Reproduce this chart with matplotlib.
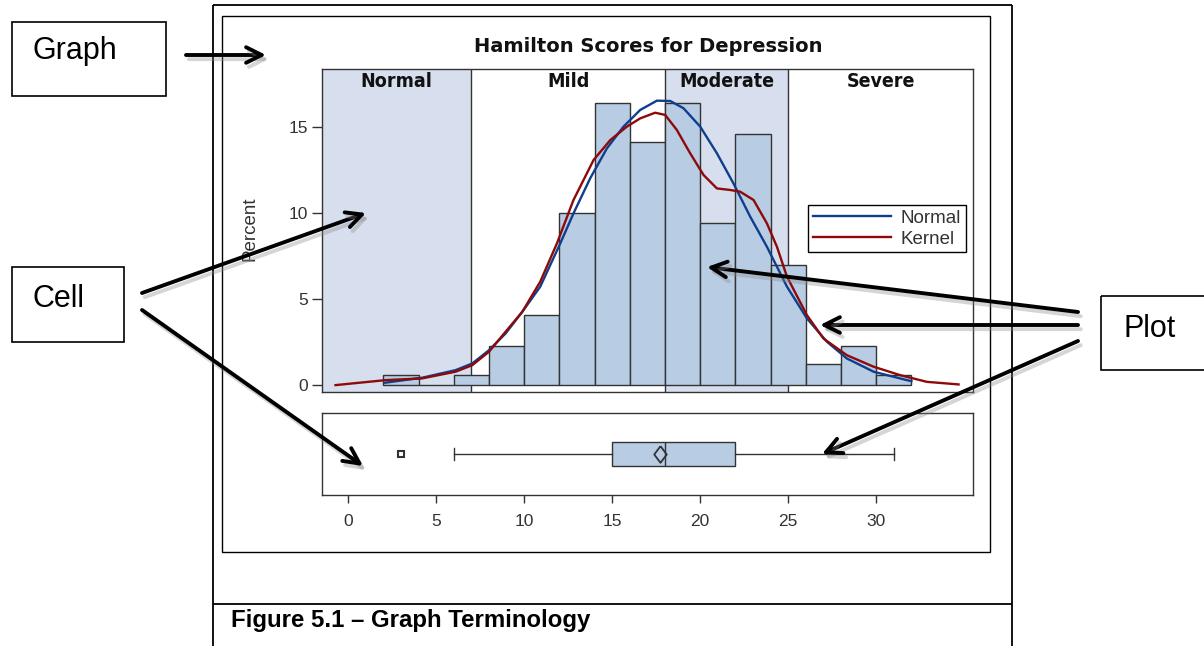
import matplotlib
matplotlib.use("Agg")
import matplotlib.pyplot as plt
from matplotlib import font_manager as fm
from matplotlib.patches import Rectangle
import matplotlib.patheffects as pe

# ---------------- data ----------------
title = "Hamilton Scores for Depression"
band_names = ["Normal", "Mild", "Moderate", "Severe"]
band_edges = [7, 18, 25]
shaded_bands = [0, 2]

bin_left = [2, 4, 6, 8, 10, 12, 14, 16, 18, 20, 22, 24, 26, 28, 30]
bin_pct = [0.6, 0.0, 0.6, 2.3, 4.1, 10.0, 16.4, 14.1, 16.4, 9.4, 14.6, 7.0, 1.2, 2.3, 0.6]
bin_width = 2

normal_x = [2.1, 4.2, 6.1, 7.05, 8.0, 8.94, 9.89, 10.91, 12.05, 12.8, 13.75, 14.7, 15.64,
            16.59, 17.54, 18.3, 19.05, 20.0, 20.95, 21.89, 22.84, 23.79, 24.93, 26.06,
            27.2, 28.33, 29.85, 31.74, 32.0]
normal_y = [0.14, 0.43, 0.87, 1.26, 2.03, 3.0, 4.26, 5.72, 8.24, 9.98, 12.02, 13.76, 15.02,
            15.99, 16.53, 16.51, 16.09, 15.02, 13.47, 11.72, 9.79, 8.04, 5.72, 3.88,
            2.52, 1.55, 0.78, 0.29, 0.23]

kernel_x = [-0.72, 2.12, 4.2, 6.1, 7.05, 8.0, 8.94, 9.89, 10.91, 11.86, 12.8, 13.94, 14.89,
            15.83, 16.59, 17.44, 18.01, 18.67, 19.43, 20.19, 20.95, 21.7, 22.27, 23.03,
            23.79, 24.36, 24.93, 26.06, 27.0, 28.33, 29.85, 31.36, 32.88, 34.68]
kernel_y = [0.0, 0.29, 0.39, 0.78, 1.16, 1.94, 3.1, 4.26, 6.01, 8.24, 10.76, 13.08, 14.24,
            15.02, 15.5, 15.83, 15.7, 14.83, 13.47, 12.21, 11.43, 11.34, 11.24, 10.76,
            9.4, 8.04, 6.3, 4.07, 2.71, 1.74, 1.07, 0.58, 0.19, 0.04]

box_q1, box_med, box_q3 = 15, 18, 22
box_whislo, box_whishi = 6, 31
box_mean = 17.7
box_fliers = [3]

y_ticks = [0, 5, 10, 15]
x_ticks = [0, 5, 10, 15, 20, 25, 30]

caption = "Figure 5.1 \u2013 Graph Terminology"
callouts = ["Graph", "Cell", "Plot"]

# ---------------- layout ----------------
W, H = 1204, 646
fig = plt.figure(figsize=(W / 100, H / 100), dpi=100)
fig.patch.set_facecolor("white")


def rect(l, t, r, b):
    return [l / W, 1 - b / H, (r - l) / W, (b - t) / H]


BAR = "#B8CCE4"
BAND = "#D7DEEE"
EDGE = "#333333"
TXT = "#333333"
BLUE = "#0F3F8C"
RED = "#8E0A0A"
XLIM = (-1.49, 35.5)

# condensed bold font for the band labels if available
band_fp = fm.FontProperties(family="DejaVu Sans", weight="bold", stretch="condensed")
path = fm.findfont(band_fp)
if "Condensed" in path:
    band_fp = fm.FontProperties(fname=path, size=14)
else:
    band_fp = fm.FontProperties(family="DejaVu Sans", weight="bold", size=12.5)

# ---------------- histogram cell ----------------
ax = fig.add_axes(rect(322, 69, 973, 392))
ax.set_xlim(*XLIM)
ax.set_ylim(-0.4, 18.37)
bounds = [XLIM[0]] + band_edges + [XLIM[1]]
for i in shaded_bands:
    ax.axvspan(bounds[i], bounds[i + 1], color=BAND, lw=0, zorder=0)
for e in band_edges:
    ax.axvline(e, color=EDGE, lw=1.0, zorder=1)
for i, name in enumerate(band_names):
    ax.text((bounds[i] + bounds[i + 1]) / 2, 17.67, name, ha="center", va="center",
            fontproperties=band_fp, color="#111111", zorder=5)
ax.bar(bin_left, bin_pct, width=bin_width, align="edge", color=BAR,
       edgecolor=EDGE, linewidth=1.0, zorder=2)
ax.plot(normal_x, normal_y, color=BLUE, lw=1.7, label="Normal", zorder=3,
        solid_joinstyle="round")
ax.plot(kernel_x, kernel_y, color=RED, lw=1.7, label="Kernel", zorder=4,
        solid_joinstyle="round")
ax.set_xticks([])
ax.set_yticks(y_ticks)
ax.tick_params(axis="y", direction="out", length=7, width=1, color=EDGE, pad=3,
               labelsize=12.5, labelcolor=TXT)
for lab in ax.get_yticklabels():
    lab.set_family("Liberation Sans")
for s in ax.spines.values():
    s.set_color(EDGE)
    s.set_linewidth(1.0)
leg = ax.legend(loc="upper right", bbox_to_anchor=(0.989, 0.579), borderaxespad=0,
                frameon=True, fancybox=False, edgecolor="black", framealpha=1,
                handlelength=4.2, handletextpad=0.5, borderpad=0.25, labelspacing=0.2,
                prop=fm.FontProperties(family="Liberation Sans", size=13.5))
leg.get_frame().set_linewidth(1.0)
for t in leg.get_texts():
    t.set_color(TXT)

# ---------------- box plot cell ----------------
bx = fig.add_axes(rect(322, 413, 973, 495))
bx.set_xlim(*XLIM)
bx.set_ylim(0, 1)
stats = [dict(med=box_med, q1=box_q1, q3=box_q3, whislo=box_whislo, whishi=box_whishi,
              mean=box_mean, fliers=box_fliers)]
diamond = [(0, 1), (0.75, 0), (0, -1), (-0.75, 0), (0, 1)]
bx.bxp(stats, positions=[0.5], widths=0.3, orientation="horizontal", showmeans=True,
       patch_artist=True, capwidths=0.15,
       boxprops=dict(facecolor=BAR, edgecolor=EDGE, linewidth=1.0),
       medianprops=dict(color=EDGE, linewidth=1.0),
       whiskerprops=dict(color=EDGE, linewidth=1.0),
       capprops=dict(color=EDGE, linewidth=1.0),
       meanprops=dict(marker=diamond, markersize=12, markerfacecolor="none",
                      markeredgecolor=EDGE, markeredgewidth=1.3),
       flierprops=dict(marker="s", markersize=4, markerfacecolor="white",
                       markeredgecolor=EDGE, markeredgewidth=1.5))
bx.set_yticks([])
bx.set_xticks(x_ticks)
bx.set_xticklabels([str(v) for v in x_ticks], family="Liberation Sans")
bx.tick_params(axis="x", direction="out", length=6, width=1, color=EDGE, pad=8,
               labelsize=12.5, labelcolor=TXT)
for s in bx.spines.values():
    s.set_color(EDGE)
    s.set_linewidth(1.0)

# ---------------- overlay: frames, texts, callouts ----------------
ov = fig.add_axes([0, 0, 1, 1], zorder=10)
ov.set_xlim(0, W)
ov.set_ylim(H, 0)
ov.axis("off")
ov.patch.set_alpha(0)

# document frame
for (x0, y0, x1, y1) in [(213, 5, 213, 646), (1012, 5, 1012, 646), (213, 5, 1012, 5),
                         (213, 604, 1012, 604)]:
    ov.plot([x0, x1], [y0, y1], color="black", lw=1.3, solid_capstyle="butt")
ov.add_patch(Rectangle((222, 16), 768, 536, fill=False, edgecolor="black", lw=1.0))

ov.text(648, 47, title, ha="center", va="center", fontsize=14, fontweight="bold",
        family="DejaVu Sans", color="#111111")
ov.text(250, 229, "Percent", rotation=90, ha="center", va="center", fontsize=13.5,
        family="Liberation Sans", color=TXT)
ov.text(231, 620, caption, ha="left", va="center", fontsize=17.3, fontweight="bold",
        family="Liberation Sans", color="black")

# callout boxes
boxes = [(12, 22, 166, 96), (12, 267, 124, 342), (1101, 296, 1210, 370)]
text_pos = [(33, 59), (32, 307), (1123, 337)]
for (l, t, r, b), (tx, ty), name in zip(boxes, text_pos, callouts):
    ov.add_patch(Rectangle((l, t), r - l, b - t, fill=False, edgecolor="black", lw=1.2))
    ov.text(tx, ty, name, ha="left", va="baseline", fontsize=22,
            family="Liberation Sans", color="black")

arrows = [((186, 55), (266, 55)),
          ((142, 293), (366, 213)),
          ((142, 310), (363, 466)),
          ((1078, 312), (707, 267)),
          ((1078, 325), (820, 325)),
          ((1078, 341), (822, 454))]
for tail, head in arrows:
    ov.annotate("", xy=head, xytext=tail,
                arrowprops=dict(arrowstyle="->", lw=2.8, color="black",
                                mutation_scale=28, shrinkA=0, shrinkB=0,
                                path_effects=[pe.SimpleLineShadow(offset=(2, -3),
                                                                  shadow_color="#888888",
                                                                  alpha=0.35),
                                              pe.Normal()]))

fig.savefig("out.png", dpi=100)
